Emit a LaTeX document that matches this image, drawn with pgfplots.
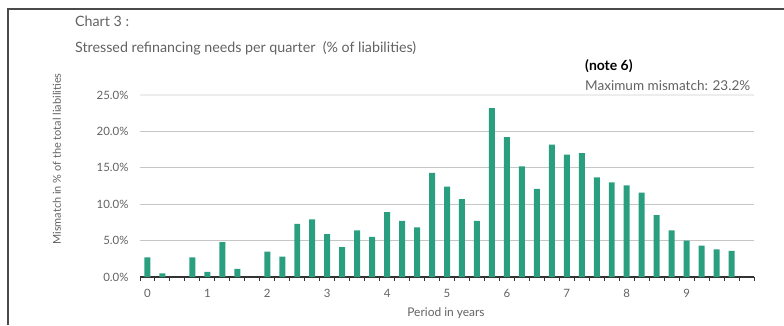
\documentclass[border=0pt]{standalone}
\usepackage{fontspec}
\setmainfont{Lato}
\usepackage{pgfplots}
\usepackage{pgfplotstable}
\pgfplotsset{compat=1.18}

\definecolor{bargreen}{HTML}{2A9F7F}
\definecolor{framegray}{HTML}{4A4A4A}
\definecolor{textgray}{HTML}{626262}
\definecolor{gridgray}{HTML}{C6C6C6}
\definecolor{topgrid}{HTML}{EDEDED}

% Stressed refinancing needs per quarter (% of liabilities)
\pgfplotstableread{
q val
0 2.7
1 0.5
3 2.7
4 0.7
5 4.8
6 1.1
8 3.5
9 2.8
10 7.3
11 7.9
12 5.9
13 4.1
14 6.4
15 5.5
16 8.9
17 7.7
18 6.8
19 14.3
20 12.4
21 10.7
22 7.7
23 23.2
24 19.2
25 15.2
26 12.1
27 18.2
28 16.8
29 17.0
30 13.7
31 13.0
32 12.6
33 11.6
34 8.5
35 6.4
36 5.0
37 4.3
38 3.8
39 3.6
}\mismatch

\begin{document}
\begin{tikzpicture}[x=1bp,y=1bp]
\useasboundingbox (0,0) rectangle (784,325);
% panel frame
\draw[framegray, line width=1.6bp] (8,0) -- (8,316) -- (784,316);

% titles
\node[anchor=west, text=textgray, font=\fontsize{14.3}{16}\selectfont, inner sep=0] at (75,304) {Chart 3 :};
\node[anchor=west, text=textgray, font=\fontsize{14.3}{16}\selectfont, inner sep=0] at (75,277) {Stressed refinancing needs per quarter\ \ (\% of liabilities)};
\node[anchor=west, text=black, font=\fontsize{14}{16}\selectfont\bfseries, inner sep=0] at (585,259) {(note 6)};
\node[anchor=west, text=textgray, font=\fontsize{13.6}{16}\selectfont, inner sep=0] at (585,239) {Maximum mismatch: 23.2\%};

% axis labels
\node[rotate=90, text=textgray, font=\fontsize{11}{13}\selectfont, inner sep=0] at (57,166) {Mismatch in \% of the total liabilities};
\node[text=textgray, font=\fontsize{12}{14}\selectfont, inner sep=0] at (446,12) {Period in years};

\begin{axis}[
  at={(140bp,48bp)}, anchor=south west,
  scale only axis, width=614bp, height=182bp,
  xmin=-0.5, xmax=40.5, ymin=0, ymax=25,
  axis x line*=bottom, axis y line*=left,
  x axis line style={-, draw=black!80, line width=1.2bp},
  y axis line style={draw=none},
  ytick={0,5,10,15,20},
  extra y ticks={25},
  extra y tick labels={25.0\%},
  extra y tick style={grid=none},
  yticklabel={\pgfmathprintnumber[fixed,fixed zerofill,precision=1]{\tick}\%},
  /pgf/number format/assume math mode=true,
  ymajorgrids,
  y grid style={draw=gridgray, line width=1.1bp},
  xtick={0,4,...,36},
  xticklabels={0,1,2,3,4,5,6,7,8,9},
  minor xtick={-0.5,0.5,...,40.5},
  major tick length=0pt,
  minor tick length=4bp,
  tick align=outside,
  minor tick style={draw=black!80, line width=1bp},
  ticklabel style={text=textgray, font=\fontsize{11.5}{13}\selectfont},
  xticklabel style={anchor=base, yshift=-20bp},
  yticklabel style={anchor=east, xshift=-8bp},
  clip=false,
]
% faint top gridline at 25%
\draw[topgrid, line width=1.8bp] (axis cs:-0.5,25) -- (axis cs:40.5,25);
\addplot[ybar, bar width=0.4, fill=bargreen, draw=none] table[x=q, y=val] {\mismatch};
\end{axis}
\end{tikzpicture}
\end{document}
